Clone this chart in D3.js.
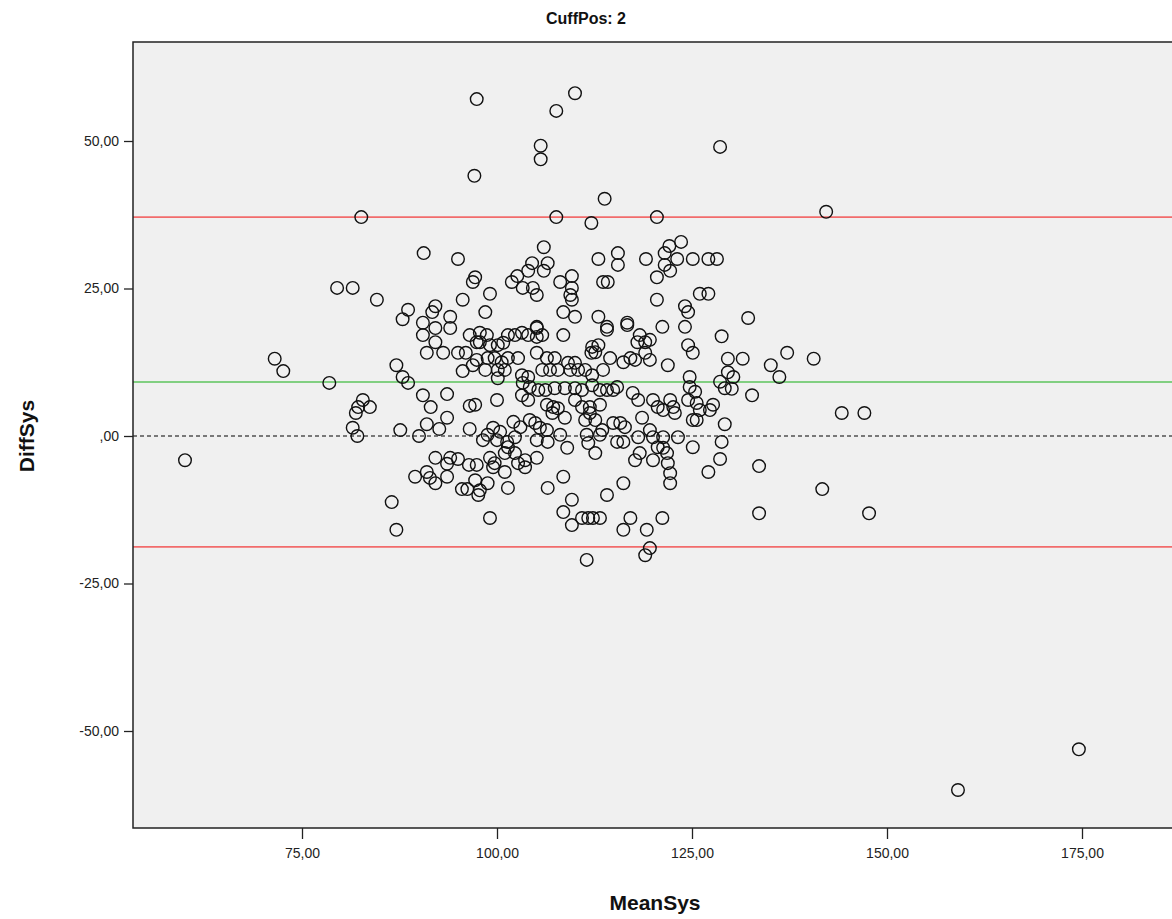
<!DOCTYPE html>
<html>
<head>
<meta charset="utf-8">
<script src="https://cdn.jsdelivr.net/npm/d3@7"></script>
<style>
  body { margin: 0; background: #fff; }
  svg { display: block; font-family: "Liberation Sans", Arial, sans-serif; }
</style>
</head>
<body>
<script>
// MeanSys / DiffSys per case (same order in both arrays)
const meanSys = [
  60.0, 71.5, 72.6, 78.5, 79.5, 81.5, 82.6, 84.6, 82.8, 82.2, 83.7, 81.9, 81.5, 82.1, 86.5, 87.1, 87.1, 87.9, 88.6, 87.6, 87.9, 88.6,
  90.5, 90.5, 92.1, 92.1, 94.0, 91.0, 93.1, 95.0, 96.0, 96.5, 97.4, 95.6, 96.9, 90.5, 91.5, 93.6, 96.5, 90.0, 91.0, 92.6, 93.6, 96.5, 92.1, 94.0, 95.0, 93.6, 96.4, 97.4, 89.5, 91.0, 91.4, 92.1, 93.6, 95.5, 96.2, 97.6, 90.6, 95.0, 97.1, 97.4, 97.2, 96.9, 95.6, 91.7, 94.0, 92.1,
  110.0, 107.6, 105.6, 105.6, 113.8, 107.6, 112.1, 106.0, 113.0, 106.5, 104.5, 104.0, 102.6, 101.9, 106.0, 103.3, 104.6, 105.1, 99.1, 98.5, 108.1, 109.6, 109.6, 109.4, 109.6, 108.5, 110.0, 113.6, 114.2, 113.0, 105.1,
  128.6, 120.5, 123.6, 122.1, 121.5, 123.1, 119.1, 115.5, 115.5, 125.1, 127.1, 128.2, 121.5, 122.2, 120.5, 120.5, 126.0, 127.1, 124.1, 124.5, 116.7, 114.1, 121.2, 124.1,
  142.2, 132.2, 128.8, 129.6, 131.5, 137.2, 135.1, 136.2, 140.6, 129.6, 130.3, 129.2, 130.1, 132.7, 144.2, 147.1, 129.2, 128.8, 128.6, 133.6, 141.7, 133.6, 147.7, 159.1, 174.6,
  97.8, 98.7, 101.4, 102.3, 103.2, 104.0, 105.1, 105.1, 105.8, 108.5,
  97.8, 99.1, 100.1, 100.8, 112.2, 113.0, 105.1, 112.1, 112.6, 97.4,
  98.8, 99.7, 100.6, 101.4, 102.7, 106.4, 107.4, 109.1, 110.0, 98.5,
  100.1, 101.0, 105.8, 106.8, 107.8, 109.4, 110.4, 111.3, 112.2, 113.6,
  103.2, 104.0, 100.1, 103.3, 104.2, 105.3, 106.2, 107.4, 108.7, 110.0,
  110.9, 112.2, 113.2, 103.2, 104.0, 100.0, 110.0, 97.2, 106.4, 107.2,
  107.8, 108.7, 107.1, 110.9, 111.9, 111.9, 111.3, 112.6, 102.1, 103.0,
  104.2, 104.9, 105.5, 106.4, 99.5, 100.4, 98.8, 98.2, 102.3, 108.1,
  111.5, 113.2, 113.5, 100.0, 101.3, 105.1, 106.5, 109.0, 111.7, 112.6,
  101.4, 101.0, 102.3, 103.6, 105.1, 99.1, 99.7, 102.7, 103.6, 99.5,
  101.0, 98.8, 97.8, 97.2, 101.4, 106.5, 108.5, 99.1, 109.6, 108.5,
  109.6, 110.9, 111.7, 112.3, 113.2, 111.5,
  114.1, 116.7, 118.3, 119.0, 119.6, 118.0, 124.5, 125.1, 114.5, 116.2,
  117.1, 117.7, 119.0, 119.6, 121.9, 114.1, 114.9, 115.4, 124.7, 124.7,
  125.4, 124.5, 128.6, 117.4, 118.1, 120.0, 120.6, 121.3, 122.2, 122.6,
  122.8, 125.6, 126.0, 127.3, 127.7, 125.1, 125.6, 118.6, 114.9, 115.8,
  116.4, 113.2, 115.4, 116.2, 118.1, 119.6, 120.0, 121.3, 123.2, 120.6,
  121.3, 118.3, 117.7, 120.0, 121.8, 121.9, 122.2, 122.2, 125.1, 127.1,
  116.2, 114.1, 117.1, 116.2, 119.2, 121.2, 119.6, 119.0
];
const diffSys = [
  -4.1, 13.1, 11.0, 9.0, 25.1, 25.1, 37.1, 23.1, 6.1, 4.9, 4.9, 3.9, 1.4, 0.0, -11.2, -15.9, 12.0, 10.0, 9.0, 1.0, 19.8, 21.4,
  19.2, 17.1, 18.3, 15.9, 18.3, 14.1, 14.1, 14.1, 14.1, 17.1, 15.9, 11.0, 12.0, 6.9, 4.9, 7.1, 5.1, 0.0, 2.0, 1.2, 3.1, 1.2, -3.7, -3.7, -3.9, -4.7, -4.9, -4.9, -6.9, -6.1, -7.1, -8.0, -6.9, -9.0, -9.0, -10.0, 31.0, 30.0, 44.1, 57.1, 26.9, 26.1, 23.1, 21.0, 20.2, 22.0,
  58.1, 55.1, 49.2, 46.9, 40.2, 37.1, 36.1, 32.0, 30.0, 29.3, 29.3, 28.0, 27.1, 26.1, 28.0, 25.1, 25.1, 23.9, 24.1, 21.0, 26.1, 27.1, 25.1, 23.9, 23.1, 21.0, 20.2, 26.1, 26.1, 20.2, 18.5,
  49.0, 37.1, 32.9, 32.2, 31.0, 30.0, 30.0, 31.0, 29.0, 30.0, 30.0, 30.0, 29.0, 28.0, 26.9, 23.1, 24.1, 24.1, 22.0, 21.0, 19.2, 18.5, 18.5, 18.5,
  38.0, 20.0, 16.9, 13.1, 13.1, 14.1, 12.0, 10.0, 13.1, 10.8, 10.0, 8.1, 8.0, 6.9, 3.9, 3.9, 2.0, -1.0, -3.9, -5.1, -9.0, -13.1, -13.1, -60.0, -53.1,
  17.5, 17.1, 17.1, 17.1, 17.5, 17.1, 18.3, 16.8, 17.1, 17.1,
  15.9, 15.4, 15.4, 15.8, 15.1, 15.4, 14.1, 14.1, 14.2, 12.9,
  13.2, 13.2, 12.5, 13.2, 13.2, 13.2, 13.2, 12.4, 12.4, 11.2,
  11.2, 11.2, 11.2, 11.2, 11.2, 11.2, 11.2, 11.2, 10.3, 11.2,
  10.3, 10.0, 9.8, 9.0, 8.3, 7.8, 7.8, 8.1, 8.1, 8.1,
  7.8, 8.6, 7.8, 6.9, 6.1, 6.1, 6.1, 5.3, 5.3, 4.9,
  4.7, 3.1, 3.9, 4.9, 4.9, 3.9, 2.7, 2.7, 2.4, 1.5,
  2.7, 2.2, 1.4, 1.0, 1.4, 0.7, 0.2, -0.7, -0.2, 0.2,
  0.2, 0.2, 1.0, -0.7, -1.0, -0.7, -1.0, -2.0, -1.2, -2.9,
  -1.9, -2.9, -2.9, -4.1, -3.7, -3.7, -4.6, -4.6, -5.3, -5.3,
  -6.1, -8.0, -9.2, -7.5, -8.8, -8.8, -6.9, -13.9, -10.8, -12.9,
  -15.1, -13.9, -13.9, -13.9, -13.9, -21.0,
  18.0, 18.8, 17.1, 15.9, 16.3, 15.9, 15.4, 14.1, 13.2, 12.5,
  13.2, 12.9, 14.1, 12.9, 12.0, 7.8, 7.8, 8.3, 10.0, 8.3,
  7.5, 6.1, 9.2, 7.3, 6.1, 6.1, 4.9, 4.4, 6.1, 4.9,
  3.9, 5.6, 4.4, 4.4, 5.3, 2.7, 2.7, 3.1, 2.2, 2.2,
  1.5, 5.3, -1.0, -1.0, -0.2, 1.0, -0.2, -0.2, -0.2, -1.9,
  -2.0, -2.9, -4.1, -4.1, -2.9, -4.6, -6.3, -8.0, -1.9, -6.1,
  -8.0, -10.0, -13.9, -15.9, -15.9, -13.9, -19.0, -20.2
];

const xTicks = [75, 100, 125, 150, 175];
const yTicks = [-50, -25, 0, 25, 50];
// upper limit, mean difference, lower limit
const refLines = [37.1, 9.15, -18.8];
const refColors = ["#f26b6b", "#5cc45c", "#f26b6b"];

const width = 1172, height = 919;
const plot = {left: 133, top: 42, bottom: 828, right: width + 10};

const points = meanSys.map((m, i) => ({mean: m, diff: diffSys[i]}));

const x = d3.scaleLinear().domain([75, 175]).range([302, 1082]);
const y = d3.scaleLinear().domain([-50, 50]).range([731, 141]);

const fmt = d => d === 0 ? ",00" : d.toFixed(2).replace(".", ",");

const svg = d3.select("body").append("svg")
  .attr("width", width)
  .attr("height", height);

svg.append("rect")
  .attr("x", plot.left)
  .attr("y", plot.top)
  .attr("width", plot.right - plot.left)
  .attr("height", plot.bottom - plot.top)
  .attr("fill", "#f0f0f0");

// reference lines
svg.selectAll(".ref")
  .data(refLines)
  .enter()
  .append("line")
  .attr("class", "ref")
  .attr("x1", plot.left)
  .attr("x2", plot.right)
  .attr("y1", d => y(d))
  .attr("y2", d => y(d))
  .attr("stroke", (d, i) => refColors[i])
  .attr("stroke-width", 1.6);

svg.append("line")
  .attr("x1", plot.left)
  .attr("x2", plot.right)
  .attr("y1", y(0))
  .attr("y2", y(0))
  .attr("stroke", "#000")
  .attr("stroke-width", 1.2)
  .attr("stroke-dasharray", "4,3");

svg.selectAll(".pt")
  .data(points)
  .enter()
  .append("circle")
  .attr("class", "pt")
  .attr("cx", d => x(d.mean))
  .attr("cy", d => y(d.diff))
  .attr("r", 6.3)
  .attr("fill", "none")
  .attr("stroke", "#111")
  .attr("stroke-width", 1.4);

// frame
svg.append("path")
  .attr("d", `M${plot.right},${plot.top}H${plot.left}V${plot.bottom}H${plot.right}`)
  .attr("fill", "none")
  .attr("stroke", "#222")
  .attr("stroke-width", 1.5);

const xAxis = svg.append("g")
  .attr("transform", `translate(0,${plot.bottom})`)
  .call(d3.axisBottom(x).tickValues(xTicks).tickSize(11).tickPadding(9).tickFormat(fmt));

const yAxis = svg.append("g")
  .attr("transform", `translate(${plot.left},0)`)
  .call(d3.axisLeft(y).tickValues(yTicks).tickSize(9).tickPadding(5).tickFormat(fmt));

[xAxis, yAxis].forEach(g => {
  g.select(".domain").remove();
  g.selectAll(".tick line").attr("stroke", "#222").attr("stroke-width", 1.3);
  g.selectAll(".tick text")
    .attr("fill", "#222")
    .style("font-family", "'Liberation Sans', Arial, sans-serif")
    .style("font-size", "14px");
});

svg.append("text")
  .attr("x", 586)
  .attr("y", 24)
  .attr("text-anchor", "middle")
  .attr("font-weight", "bold")
  .attr("font-size", 16)
  .attr("fill", "#111")
  .text("CuffPos: 2");

svg.append("text")
  .attr("x", 655)
  .attr("y", 910)
  .attr("text-anchor", "middle")
  .attr("font-weight", "bold")
  .attr("font-size", 21)
  .attr("fill", "#111")
  .text("MeanSys");

svg.append("text")
  .attr("transform", `translate(34,${y(0)}) rotate(-90)`)
  .attr("text-anchor", "middle")
  .attr("font-weight", "bold")
  .attr("font-size", 21)
  .attr("fill", "#111")
  .text("DiffSys");
</script>
</body>
</html>
